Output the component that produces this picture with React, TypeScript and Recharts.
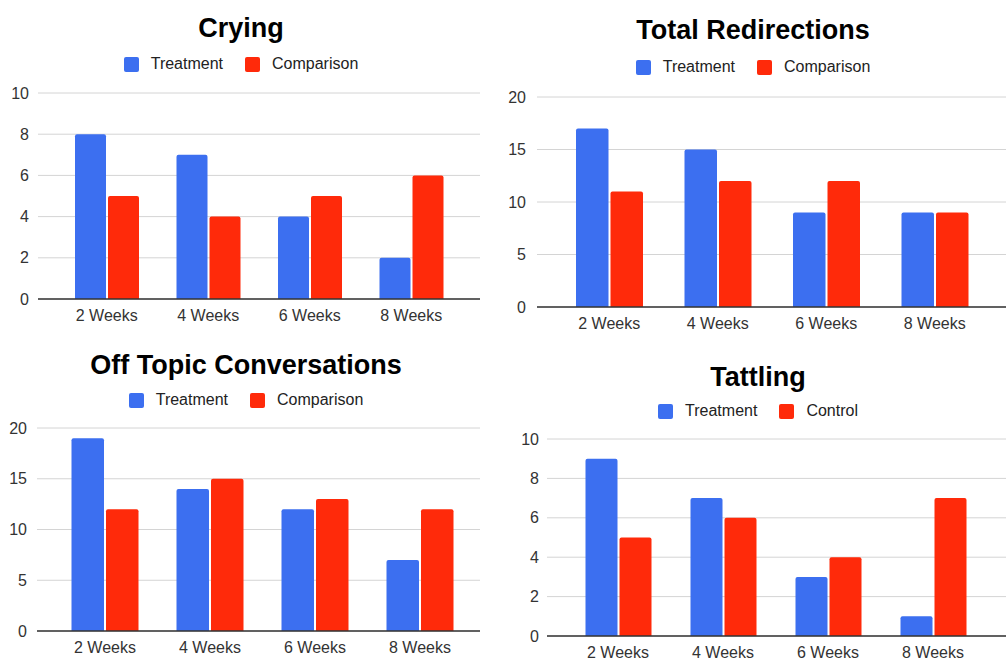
import { BarChart, Bar, XAxis, YAxis, CartesianGrid } from "recharts";

const categories = ["2 Weeks", "4 Weeks", "6 Weeks", "8 Weeks"];

const cryingTreatment = [8, 7, 4, 2];
const cryingComparison = [5, 4, 5, 6];

const redirectTreatment = [17, 15, 9, 9];
const redirectComparison = [11, 12, 12, 9];

const offTopicTreatment = [19, 14, 12, 7];
const offTopicComparison = [12, 15, 13, 12];

const tattlingTreatment = [9, 7, 3, 1];
const tattlingControl = [5, 6, 4, 7];

const ticksTen = [0, 2, 4, 6, 8, 10];
const ticksTwenty = [0, 5, 10, 15, 20];

const FONT = '"Liberation Sans", Arial, Helvetica, sans-serif';
const BLUE = "#3c6ff0";
const RED = "#ff2a0a";
const YW = 40;
const XH = 40;
const MT = 10;

type Panel = {
  title: string;
  nameA: string;
  nameB: string;
  a: number[];
  b: number[];
  ticks: number[];
  cx: number;
  titleTop: number;
  legendY: number;
  left: number;
  top: number;
  right: number;
  bottom: number;
  padL: number;
  padR: number;
  barSize: number;
  yGap: number;
};

const panels: Panel[] = [
  {
    title: "Crying", nameA: "Treatment", nameB: "Comparison",
    a: cryingTreatment, b: cryingComparison, ticks: ticksTen,
    cx: 241, titleTop: 15, legendY: 64, left: 38, top: 93, right: 480, bottom: 299,
    padL: 18, padR: 18, barSize: 31, yGap: 9,
  },
  {
    title: "Total Redirections", nameA: "Treatment", nameB: "Comparison",
    a: redirectTreatment, b: redirectComparison, ticks: ticksTwenty,
    cx: 753, titleTop: 17, legendY: 67, left: 537, top: 97, right: 1006, bottom: 307,
    padL: 18, padR: 17, barSize: 32.5, yGap: 11,
  },
  {
    title: "Off Topic Conversations", nameA: "Treatment", nameB: "Comparison",
    a: offTopicTreatment, b: offTopicComparison, ticks: ticksTwenty,
    cx: 246, titleTop: 352, legendY: 400, left: 37, top: 428, right: 480, bottom: 631,
    padL: 15.5, padR: 7.5, barSize: 32.5, yGap: 10,
  },
  {
    title: "Tattling", nameA: "Treatment", nameB: "Control",
    a: tattlingTreatment, b: tattlingControl, ticks: ticksTen,
    cx: 758, titleTop: 364, legendY: 411, left: 547, top: 439, right: 1006, bottom: 636,
    padL: 18.5, padR: 20.5, barSize: 32, yGap: 8,
  },
];

function ChartPanel({ p }: { p: Panel }) {
  const rows = categories.map((label, i) => ({ label, a: p.a[i], b: p.b[i] }));
  const tickStyle = { fontSize: 16, fill: "#333", fontFamily: FONT };
  return (
    <>
      <div
        style={{
          position: "absolute", left: p.cx - 300, width: 600, top: p.titleTop,
          textAlign: "center", fontFamily: FONT, fontWeight: 700, fontSize: 27,
          lineHeight: "27px", color: "#000",
        }}
      >
        {p.title}
      </div>
      <div
        style={{
          position: "absolute", left: p.cx - 300, width: 600, top: p.legendY - 8, height: 16,
          display: "flex", justifyContent: "center", alignItems: "center", gap: 22,
          fontFamily: FONT, fontSize: 16, lineHeight: "16px", color: "#222",
        }}
      >
        {[{ n: p.nameA, c: BLUE }, { n: p.nameB, c: RED }].map((it) => (
          <div key={it.n} style={{ display: "flex", alignItems: "center" }}>
            <span style={{ display: "inline-block", width: 15, height: 15, background: it.c, borderRadius: 2, marginRight: 12 }} />
            <span>{it.n}</span>
          </div>
        ))}
      </div>
      <div style={{ position: "absolute", left: p.left - YW, top: p.top - MT }}>
        <BarChart
          width={p.right - p.left + YW}
          height={p.bottom - p.top + MT + XH}
          data={rows}
          margin={{ top: MT, right: 0, left: 0, bottom: 0 }}
          barSize={p.barSize}
          barGap={2}
        >
          <CartesianGrid vertical={false} stroke="#d4d4d4" />
          <XAxis
            dataKey="label"
            padding={{ left: p.padL, right: p.padR }}
            axisLine={{ stroke: "#333", strokeWidth: 1.5 }}
            tickLine={false}
            tickSize={0}
            tickMargin={11}
            height={XH}
            interval={0}
            tick={tickStyle}
          />
          <YAxis
            width={YW}
            domain={[0, p.ticks[p.ticks.length - 1]]}
            ticks={p.ticks}
            interval={0}
            axisLine={false}
            tickLine={false}
            tickSize={0}
            tickMargin={p.yGap}
            tick={tickStyle}
          />
          <Bar dataKey="a" name={p.nameA} fill={BLUE} radius={[2, 2, 0, 0]} isAnimationActive={false} />
          <Bar dataKey="b" name={p.nameB} fill={RED} radius={[2, 2, 0, 0]} isAnimationActive={false} />
        </BarChart>
      </div>
    </>
  );
}

export default function App() {
  return (
    <div
      style={{
        position: "absolute", left: 0, top: 0, width: 1006, height: 658,
        overflow: "hidden", background: "#fff",
      }}
    >
      {panels.map((p) => (
        <ChartPanel key={p.title} p={p} />
      ))}
    </div>
  );
}
